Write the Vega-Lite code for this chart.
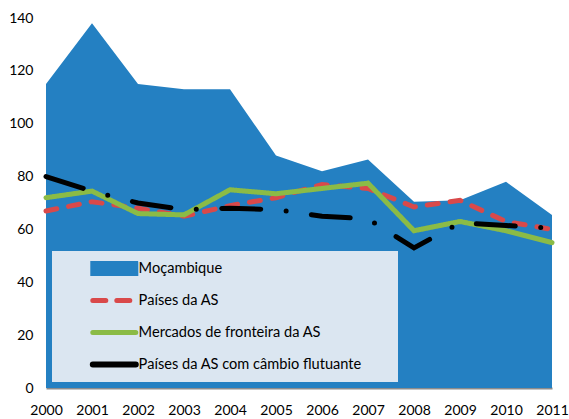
{
  "$schema": "https://vega.github.io/schema/vega-lite/v6.json",
  "width": 506,
  "height": 370,
  "autosize": {"type": "none"},
  "padding": {"left": 46, "top": 18, "right": 17, "bottom": 31},
  "background": "white",
  "config": {"view": {"stroke": null}, "font": "Lato"},
  "data": {
    "values": [
      {"year": "2000", "series": "Moçambique", "value": 115},
      {"year": "2001", "series": "Moçambique", "value": 138},
      {"year": "2002", "series": "Moçambique", "value": 115},
      {"year": "2003", "series": "Moçambique", "value": 113},
      {"year": "2004", "series": "Moçambique", "value": 113},
      {"year": "2005", "series": "Moçambique", "value": 88},
      {"year": "2006", "series": "Moçambique", "value": 82},
      {"year": "2007", "series": "Moçambique", "value": 86.5},
      {"year": "2008", "series": "Moçambique", "value": 70.5},
      {"year": "2009", "series": "Moçambique", "value": 71},
      {"year": "2010", "series": "Moçambique", "value": 78},
      {"year": "2011", "series": "Moçambique", "value": 65.5},
      {"year": "2000", "series": "Países da AS", "value": 67},
      {"year": "2001", "series": "Países da AS", "value": 70.5},
      {"year": "2002", "series": "Países da AS", "value": 68},
      {"year": "2003", "series": "Países da AS", "value": 65},
      {"year": "2004", "series": "Países da AS", "value": 69},
      {"year": "2005", "series": "Países da AS", "value": 72},
      {"year": "2006", "series": "Países da AS", "value": 77},
      {"year": "2007", "series": "Países da AS", "value": 75.5},
      {"year": "2008", "series": "Países da AS", "value": 68.5},
      {"year": "2009", "series": "Países da AS", "value": 71},
      {"year": "2010", "series": "Países da AS", "value": 63},
      {"year": "2011", "series": "Países da AS", "value": 60},
      {"year": "2000", "series": "Mercados de fronteira da AS", "value": 72},
      {"year": "2001", "series": "Mercados de fronteira da AS", "value": 74.5},
      {"year": "2002", "series": "Mercados de fronteira da AS", "value": 66},
      {"year": "2003", "series": "Mercados de fronteira da AS", "value": 65.5},
      {"year": "2004", "series": "Mercados de fronteira da AS", "value": 75},
      {"year": "2005", "series": "Mercados de fronteira da AS", "value": 73.5},
      {"year": "2006", "series": "Mercados de fronteira da AS", "value": 75.5},
      {"year": "2007", "series": "Mercados de fronteira da AS", "value": 77.5},
      {"year": "2008", "series": "Mercados de fronteira da AS", "value": 59.5},
      {"year": "2009", "series": "Mercados de fronteira da AS", "value": 63},
      {"year": "2010", "series": "Mercados de fronteira da AS", "value": 59.5},
      {"year": "2011", "series": "Mercados de fronteira da AS", "value": 55},
      {"year": "2000", "series": "Países da AS com câmbio flutuante", "value": 80},
      {"year": "2001", "series": "Países da AS com câmbio flutuante", "value": 74.5},
      {"year": "2002", "series": "Países da AS com câmbio flutuante", "value": 70},
      {"year": "2003", "series": "Países da AS com câmbio flutuante", "value": 67.5},
      {"year": "2004", "series": "Países da AS com câmbio flutuante", "value": 68},
      {"year": "2005", "series": "Países da AS com câmbio flutuante", "value": 67.5},
      {"year": "2006", "series": "Países da AS com câmbio flutuante", "value": 65},
      {"year": "2007", "series": "Países da AS com câmbio flutuante", "value": 64},
      {"year": "2008", "series": "Países da AS com câmbio flutuante", "value": 53},
      {"year": "2009", "series": "Países da AS com câmbio flutuante", "value": 62.5},
      {"year": "2010", "series": "Países da AS com câmbio flutuante", "value": 61.5},
      {"year": "2011", "series": "Países da AS com câmbio flutuante", "value": 60.5}
    ]
  },
  "encoding": {
    "x": {
      "field": "year",
      "type": "ordinal",
      "scale": {"type": "point", "padding": 0},
      "axis": {
        "title": null,
        "labelAngle": 0,
        "labelFontSize": 14,
        "labelColor": "#000000",
        "labelPadding": 15,
        "ticks": false,
        "domainColor": "#8c8c8c",
        "domainWidth": 2,
        "grid": false
      }
    },
    "y": {
      "field": "value",
      "type": "quantitative",
      "scale": {"domain": [0, 140], "nice": false},
      "axis": {
        "title": null,
        "values": [0, 20, 40, 60, 80, 100, 120, 140],
        "labelFontSize": 14,
        "labelColor": "#000000",
        "labelPadding": 13,
        "ticks": false,
        "domain": false,
        "grid": false
      }
    },
    "color": {
      "field": "series",
      "type": "nominal",
      "scale": {
        "domain": ["Moçambique", "Países da AS", "Mercados de fronteira da AS", "Países da AS com câmbio flutuante"],
        "range": ["#2480c2", "#d9494a", "#8bbb46", "#000000"]
      },
      "legend": {
        "title": " ",
        "titleOrient": "right",
        "titlePadding": 26,
        "titleFontSize": 14,
        "orient": "none",
        "legendX": 6,
        "legendY": 233,
        "fillColor": "#dbe6f1",
        "padding": 10,
        "labelFontSize": 14.6,
        "labelColor": "#000000",
        "labelLimit": 400,
        "labelOffset": 17,
        "symbolOffset": 45,
        "rowPadding": 16,
        "clipHeight": 15,
        "symbolSize": 1849,
        "symbolStrokeWidth": 5,
        "encode": {
          "symbols": {
            "update": {
              "shape": {"signal": "datum.value === 'Moçambique' ? 'M-1,-0.28H1V0.28H-1Z' : 'stroke'"},
              "fill": {"signal": "datum.value === 'Moçambique' ? '#2480c2' : 'transparent'"},
              "stroke": {"signal": "datum.value === 'Moçambique' ? 'transparent' : datum.value === 'Países da AS' ? '#d9494a' : datum.value === 'Mercados de fronteira da AS' ? '#8bbb46' : '#000000'"},
              "strokeDash": {"signal": "datum.value === 'Países da AS' ? [13, 11] : [1, 0]"},
              "strokeWidth": {"signal": "datum.value === 'Países da AS com câmbio flutuante' ? 6 : 5"},
              "strokeCap": {"value": "round"},
              "opacity": {"value": 1}
            }
          }
        }
      }
    }
  },
  "layer": [
    {
      "transform": [{"filter": "datum.series === 'Moçambique'"}],
      "mark": {"type": "area", "opacity": 1}
    },
    {
      "transform": [{"filter": "datum.series !== 'Moçambique'"}],
      "mark": {"type": "line", "strokeCap": "round", "strokeJoin": "miter"},
      "encoding": {
        "strokeDash": {
          "field": "series",
          "type": "nominal",
          "scale": {
            "domain": ["Países da AS", "Mercados de fronteira da AS", "Países da AS com câmbio flutuante"],
            "range": [[11, 12], [1, 0], [39, 25.5, 0, 25.5]]
          },
          "legend": null
        },
        "strokeWidth": {
          "field": "series",
          "type": "nominal",
          "scale": {
            "domain": ["Países da AS", "Mercados de fronteira da AS", "Países da AS com câmbio flutuante"],
            "range": [5, 5, 6]
          },
          "legend": null
        }
      }
    }
  ]
}
